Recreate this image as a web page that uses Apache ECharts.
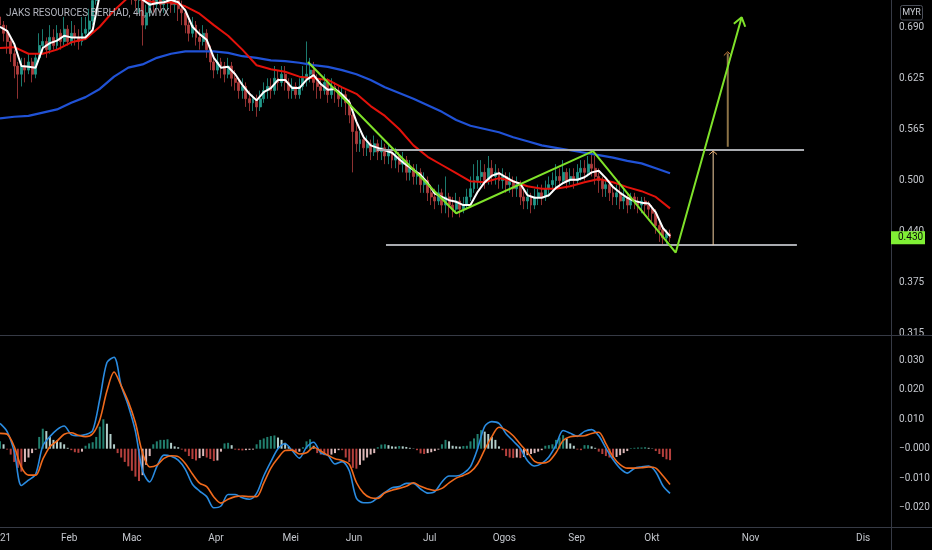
<!DOCTYPE html>
<html>
<head>
<meta charset="utf-8" />
<title>JAKS RESOURCES BERHAD, 4h, MYX</title>
<style>
  html, body { margin: 0; padding: 0; background: #000; }
  #chartmain { width: 932px; height: 550px; }
</style>
</head>
<body>
<div id="chartmain"></div>
<script src="https://cdn.jsdelivr.net/npm/echarts@6/dist/echarts.min.js"></script>
<script>
// x is the bar number (one bar per trading day)
var monthNames = ['2021', 'Feb', 'Mac', 'Apr', 'Mei', 'Jun', 'Jul', 'Ogos', 'Sep', 'Okt', 'Nov', 'Dis'];
var monthTicks = [0, 19.4, 37, 60.6, 81.6, 99.3, 120.6, 141.5, 161.8, 182.9, 210.6, 242.2];
var priceTicks = [0.3125, 0.375, 0.4375, 0.5, 0.5625, 0.625, 0.6875];
var priceTickLabels = ['0.315', '0.375', '0.440', '0.500', '0.565', '0.625', '0.690'];
var macdTicks = [0.03, 0.02, 0.01, 0, -0.01, -0.02];
var lastClose = 0.430;

// [open, close, low, high]
var candles = [
  [0.700,0.690,0.680,0.710],[0.690,0.680,0.670,0.695],[0.680,0.670,0.655,0.690],[0.670,0.655,0.645,0.675],
  [0.655,0.640,0.625,0.660],[0.640,0.630,0.600,0.645],[0.630,0.640,0.615,0.650],[0.640,0.635,0.620,0.650],
  [0.635,0.645,0.630,0.655],[0.645,0.630,0.620,0.650],[0.630,0.650,0.625,0.655],[0.650,0.665,0.645,0.680],
  [0.665,0.670,0.655,0.685],[0.670,0.660,0.650,0.675],[0.660,0.675,0.655,0.690],[0.675,0.665,0.660,0.685],
  [0.665,0.680,0.660,0.690],[0.680,0.670,0.660,0.685],[0.670,0.685,0.665,0.700],[0.685,0.670,0.665,0.690],
  [0.670,0.680,0.665,0.695],[0.680,0.675,0.665,0.690],[0.675,0.670,0.660,0.685],[0.670,0.680,0.665,0.700],
  [0.680,0.685,0.675,0.700],[0.685,0.695,0.680,0.710],[0.695,0.720,0.690,0.730],[0.720,0.745,0.715,0.755],
  [0.745,0.760,0.740,0.775],[0.760,0.750,0.740,0.770],[0.750,0.770,0.745,0.785],[0.770,0.760,0.750,0.780],
  [0.760,0.755,0.740,0.770],[0.755,0.765,0.745,0.775],[0.765,0.745,0.735,0.770],[0.745,0.750,0.735,0.760],
  [0.750,0.735,0.725,0.755],[0.735,0.730,0.715,0.745],[0.730,0.720,0.710,0.740],[0.720,0.725,0.705,0.735],
  [0.725,0.690,0.665,0.730],[0.690,0.705,0.685,0.715],[0.705,0.720,0.700,0.730],[0.720,0.715,0.705,0.730],
  [0.715,0.725,0.710,0.735],[0.725,0.715,0.705,0.730],[0.715,0.720,0.705,0.730],[0.720,0.725,0.710,0.740],
  [0.725,0.715,0.705,0.735],[0.715,0.720,0.705,0.730],[0.720,0.710,0.695,0.725],[0.710,0.705,0.690,0.720],
  [0.705,0.690,0.680,0.710],[0.690,0.680,0.670,0.695],[0.680,0.690,0.675,0.700],[0.690,0.675,0.665,0.695],
  [0.675,0.670,0.660,0.685],[0.670,0.680,0.665,0.690],[0.680,0.660,0.650,0.685],[0.660,0.645,0.635,0.665],
  [0.645,0.635,0.625,0.650],[0.635,0.645,0.630,0.655],[0.645,0.640,0.625,0.650],[0.640,0.630,0.620,0.645],
  [0.630,0.640,0.625,0.650],[0.640,0.625,0.615,0.645],[0.625,0.620,0.610,0.635],[0.620,0.610,0.600,0.625],
  [0.610,0.615,0.600,0.625],[0.615,0.600,0.590,0.620],[0.600,0.595,0.585,0.610],[0.595,0.600,0.585,0.605],
  [0.600,0.590,0.578,0.605],[0.590,0.600,0.585,0.610],[0.600,0.610,0.595,0.620],[0.610,0.615,0.600,0.625],
  [0.615,0.610,0.600,0.625],[0.610,0.625,0.605,0.640],[0.625,0.620,0.610,0.635],[0.620,0.630,0.615,0.640],
  [0.630,0.620,0.610,0.640],[0.620,0.610,0.600,0.625],[0.610,0.615,0.600,0.625],[0.615,0.605,0.600,0.620],
  [0.605,0.615,0.600,0.625],[0.615,0.625,0.610,0.640],[0.625,0.630,0.615,0.670],[0.630,0.635,0.620,0.650],
  [0.635,0.620,0.610,0.645],[0.620,0.615,0.600,0.630],[0.615,0.610,0.600,0.625],[0.610,0.620,0.605,0.630],
  [0.620,0.605,0.595,0.625],[0.605,0.615,0.600,0.625],[0.615,0.610,0.595,0.620],[0.610,0.600,0.590,0.615],
  [0.600,0.605,0.590,0.615],[0.605,0.595,0.580,0.610],[0.595,0.580,0.570,0.600],[0.580,0.560,0.510,0.585],
  [0.560,0.545,0.535,0.570],[0.545,0.550,0.535,0.560],[0.550,0.540,0.530,0.555],[0.540,0.545,0.530,0.555],
  [0.545,0.535,0.525,0.550],[0.535,0.545,0.530,0.555],[0.545,0.535,0.525,0.550],[0.535,0.540,0.525,0.550],
  [0.540,0.530,0.520,0.545],[0.530,0.535,0.520,0.545],[0.535,0.525,0.515,0.540],[0.525,0.530,0.515,0.540],
  [0.530,0.520,0.510,0.535],[0.520,0.525,0.510,0.535],[0.525,0.510,0.500,0.530],[0.510,0.515,0.500,0.525],
  [0.515,0.505,0.495,0.520],[0.505,0.510,0.495,0.520],[0.510,0.495,0.485,0.515],[0.495,0.500,0.485,0.510],
  [0.500,0.485,0.475,0.505],[0.485,0.480,0.470,0.495],[0.480,0.475,0.465,0.490],[0.475,0.485,0.470,0.495],
  [0.485,0.470,0.460,0.490],[0.470,0.480,0.460,0.505],[0.480,0.470,0.455,0.485],[0.470,0.465,0.455,0.480],
  [0.465,0.475,0.460,0.485],[0.475,0.465,0.455,0.480],[0.465,0.470,0.460,0.480],[0.470,0.480,0.465,0.490],
  [0.480,0.490,0.475,0.505],[0.490,0.500,0.485,0.520],[0.500,0.505,0.490,0.525],[0.505,0.510,0.495,0.525],
  [0.510,0.500,0.490,0.520],[0.500,0.515,0.495,0.530],[0.515,0.505,0.495,0.525],[0.505,0.510,0.495,0.520],
  [0.510,0.500,0.490,0.515],[0.500,0.505,0.490,0.515],[0.505,0.495,0.485,0.510],[0.495,0.500,0.485,0.510],
  [0.500,0.490,0.480,0.505],[0.490,0.495,0.480,0.505],[0.495,0.480,0.470,0.500],[0.480,0.475,0.465,0.490],
  [0.475,0.480,0.465,0.490],[0.480,0.470,0.460,0.485],[0.470,0.480,0.465,0.490],[0.480,0.485,0.470,0.495],
  [0.485,0.480,0.470,0.495],[0.480,0.490,0.475,0.500],[0.490,0.495,0.480,0.505],[0.495,0.500,0.485,0.510],
  [0.500,0.505,0.490,0.520],[0.505,0.500,0.490,0.515],[0.500,0.510,0.495,0.525],[0.510,0.500,0.490,0.515],
  [0.500,0.505,0.495,0.515],[0.505,0.500,0.490,0.515],[0.500,0.510,0.495,0.520],[0.510,0.515,0.500,0.525],
  [0.515,0.510,0.500,0.525],[0.510,0.520,0.505,0.530],[0.520,0.515,0.505,0.535],[0.515,0.505,0.495,0.530],
  [0.505,0.500,0.485,0.515],[0.500,0.490,0.480,0.505],[0.490,0.495,0.480,0.500],[0.495,0.485,0.475,0.500],
  [0.485,0.480,0.470,0.495],[0.480,0.485,0.470,0.495],[0.485,0.475,0.465,0.500],[0.475,0.480,0.465,0.490],
  [0.480,0.470,0.460,0.485],[0.470,0.480,0.465,0.485],[0.480,0.475,0.465,0.485],[0.475,0.470,0.460,0.480],
  [0.470,0.475,0.460,0.480],[0.475,0.470,0.460,0.480],[0.470,0.465,0.455,0.475],[0.465,0.460,0.450,0.470],
  [0.460,0.445,0.435,0.465],[0.445,0.440,0.425,0.450],[0.440,0.430,0.420,0.445],[0.430,0.435,0.420,0.440],
  [0.435,0.430,0.425,0.440]
];

// moving averages: fast every 2 bars, mid and slow every 4 bars
var fastMA = [
  0.688,0.683,0.667,0.640,0.639,0.638,0.662,0.668,0.671,0.677,
  0.675,0.675,0.675,0.684,0.727,0.745,0.757,0.757,0.751,0.739,
  0.721,0.715,0.717,0.718,0.721,0.718,0.708,0.688,0.679,0.672,
  0.650,0.638,0.639,0.630,0.617,0.606,0.598,0.608,0.613,0.623,
  0.623,0.613,0.613,0.623,0.629,0.618,0.611,0.612,0.605,0.596,
  0.572,0.553,0.543,0.540,0.537,0.534,0.526,0.519,0.513,0.507,
  0.497,0.484,0.480,0.476,0.474,0.470,0.470,0.486,0.498,0.506,
  0.509,0.504,0.499,0.496,0.482,0.479,0.479,0.482,0.491,0.497,
  0.501,0.501,0.504,0.510,0.512,0.503,0.492,0.485,0.479,0.475,
  0.473,0.472,0.461,0.442,0.432
];
var midMA = [
  0.662,0.663,0.655,0.655,0.660,0.669,0.673,0.688,0.708,0.724,
  0.721,0.717,0.718,0.713,0.704,0.690,0.677,0.660,0.641,0.636,
  0.633,0.627,0.625,0.623,0.614,0.606,0.591,0.579,0.563,0.543,
  0.529,0.519,0.509,0.499,0.498,0.503,0.499,0.493,0.490,0.490,
  0.493,0.498,0.502,0.498,0.492,0.487,0.480,0.466
];
var slowMA = [
  0.576,0.578,0.579,0.583,0.587,0.595,0.602,0.612,0.627,0.638,
  0.642,0.650,0.655,0.658,0.658,0.658,0.656,0.652,0.650,0.647,
  0.646,0.644,0.641,0.639,0.635,0.630,0.623,0.614,0.607,0.600,
  0.592,0.584,0.574,0.567,0.563,0.559,0.553,0.548,0.543,0.540,
  0.537,0.534,0.531,0.528,0.524,0.521,0.515,0.509
];

// MACD lines every 2 bars, histogram every bar
var macdLine = [
  0.0086,0.0058,-0.0010,-0.0125,-0.0107,-0.0087,0.0009,0.0041,0.0065,0.0077,
  0.0048,0.0044,0.0048,0.0062,0.0169,0.0293,0.0311,0.0215,0.0146,0.0059,
  -0.0075,-0.0113,-0.0061,-0.0022,-0.0026,-0.0039,-0.0070,-0.0121,-0.0144,-0.0163,
  -0.0201,-0.0195,-0.0156,-0.0156,-0.0167,-0.0172,-0.0152,-0.0093,-0.0044,0.0000,
  0.0017,-0.0007,-0.0032,0.0005,0.0022,-0.0014,-0.0023,-0.0052,-0.0044,-0.0075,
  -0.0168,-0.0184,-0.0183,-0.0166,-0.0149,-0.0133,-0.0129,-0.0118,-0.0118,-0.0137,
  -0.0151,-0.0146,-0.0113,-0.0093,-0.0093,-0.0084,-0.0061,0.0000,0.0076,0.0092,
  0.0086,0.0051,0.0026,0.0001,-0.0041,-0.0059,-0.0050,-0.0028,0.0012,0.0062,
  0.0053,0.0042,0.0059,0.0065,0.0044,0.0002,-0.0037,-0.0067,-0.0083,-0.0067,
  -0.0062,-0.0059,-0.0079,-0.0126,-0.0152
];
var signalLine = [
  0.0052,0.0049,0.0007,-0.0063,-0.0090,-0.0090,-0.0036,0.0007,0.0026,0.0049,
  0.0054,0.0046,0.0041,0.0051,0.0098,0.0196,0.0261,0.0214,0.0160,0.0088,
  -0.0015,-0.0062,-0.0056,-0.0033,-0.0024,-0.0027,-0.0050,-0.0086,-0.0117,-0.0129,
  -0.0164,-0.0185,-0.0172,-0.0163,-0.0161,-0.0163,-0.0163,-0.0117,-0.0066,-0.0032,
  -0.0006,-0.0005,-0.0018,-0.0014,0.0005,-0.0008,-0.0022,-0.0034,-0.0040,-0.0053,
  -0.0115,-0.0151,-0.0167,-0.0169,-0.0150,-0.0141,-0.0135,-0.0128,-0.0116,-0.0128,
  -0.0137,-0.0142,-0.0135,-0.0116,-0.0100,-0.0091,-0.0079,-0.0052,-0.0003,0.0041,
  0.0073,0.0063,0.0044,0.0015,-0.0012,-0.0043,-0.0049,-0.0043,-0.0014,0.0028,
  0.0041,0.0043,0.0044,0.0052,0.0056,0.0017,-0.0027,-0.0054,-0.0066,-0.0066,
  -0.0065,-0.0062,-0.0066,-0.0092,-0.0122
];
var macdHist = [
  0.0025,0.0015,-0.0003,-0.0020,-0.0045,-0.0065,-0.0078,-0.0045,-0.0030,-0.0015,
  -0.0003,0.0040,0.0068,0.0060,0.0040,0.0030,0.0028,0.0022,0.0015,0.0003,
  -0.0005,-0.0012,-0.0014,-0.0010,0.0010,0.0018,0.0022,0.0040,0.0075,0.0100,
  0.0085,0.0050,0.0015,-0.0015,-0.0030,-0.0045,-0.0060,-0.0075,-0.0095,-0.0110,
  -0.0090,-0.0055,-0.0025,0.0015,0.0025,0.0030,0.0030,0.0032,0.0020,0.0008,
  0.0005,-0.0003,-0.0010,-0.0025,-0.0035,-0.0040,-0.0032,-0.0025,-0.0030,-0.0035,
  -0.0042,-0.0040,-0.0010,0.0018,0.0020,0.0012,-0.0003,-0.0005,-0.0006,-0.0005,
  -0.0004,-0.0003,0.0015,0.0030,0.0035,0.0040,0.0043,0.0045,0.0038,0.0030,
  0.0020,0.0008,-0.0008,-0.0012,-0.0010,0.0005,0.0025,0.0032,0.0010,-0.0015,
  -0.0020,-0.0022,-0.0025,-0.0020,-0.0015,-0.0005,-0.0005,-0.0030,-0.0045,-0.0065,
  -0.0068,-0.0055,-0.0040,-0.0030,-0.0020,-0.0015,0.0005,0.0014,0.0015,0.0012,
  0.0008,0.0007,0.0009,0.0008,0.0006,0.0003,0.0001,-0.0005,-0.0016,-0.0018,
  -0.0015,-0.0012,-0.0008,-0.0003,0.0015,0.0030,0.0025,0.0010,0.0008,0.0007,
  0.0009,0.0010,0.0025,0.0035,0.0050,0.0063,0.0058,0.0050,0.0040,0.0030,
  0.0008,-0.0005,-0.0025,-0.0030,-0.0032,-0.0030,-0.0032,-0.0028,-0.0022,-0.0018,
  -0.0015,-0.0010,-0.0005,0.0010,0.0012,0.0015,0.0030,0.0038,0.0046,0.0035,
  0.0018,0.0010,-0.0003,-0.0005,0.0012,0.0012,0.0008,0.0003,-0.0010,-0.0018,
  -0.0025,-0.0030,-0.0032,-0.0028,-0.0022,-0.0015,-0.0008,0.0002,0.0003,0.0004,
  0.0004,0.0005,0.0003,0.0001,-0.0008,-0.0018,-0.0028,-0.0036,-0.0039
];

// hand drawn pattern, [bar, price]
var patternLine = [[86.4,0.645],[128.0,0.460],[166.4,0.536],[189.6,0.412],[208.1,0.6995]];
var patternArrow = [[205.9,0.6917],[208.1,0.6995],[209.1,0.6880]];
var rangeTop = [[105.7,0.5373],[225.6,0.5373]];
var rangeBottom = [[108.3,0.4211],[223.6,0.4211]];
var moveArrow = [[200.1,0.4211],[200.1,0.5361]];
var moveArrowHead = [[199.0,0.5318],[200.1,0.5361],[201.2,0.5318]];
var targetArrow = [[204.2,0.5413],[204.2,0.6555]];
var targetArrowHead = [[203.1,0.6528],[204.2,0.6575],[205.3,0.6528]];

var FONT = 'Roboto, "Noto Sans", sans-serif';

function pairs(arr, step) {
  return arr.map(function (v, i) { return [i * step, v]; });
}

function drawLine(data, color, width, z) {
  return {
    type: 'line', xAxisIndex: 0, yAxisIndex: 0, data: data,
    symbol: 'none', z: z || 5, silent: true,
    lineStyle: { color: color, width: width }
  };
}

var labelStyle = { color: '#c3c6cc', fontSize: 10, fontFamily: FONT };

var option = {
  backgroundColor: '#000000',
  animation: false,
  textStyle: { fontFamily: FONT },
  grid: [
    { left: 0, top: 0, width: 891, height: 335, outerBoundsMode: 'none', containLabel: false },
    { left: 0, top: 336, width: 891, height: 191, outerBoundsMode: 'none', containLabel: false }
  ],
  xAxis: [
    { type: 'value', gridIndex: 0, min: 0, max: 250, show: false },
    {
      type: 'value', gridIndex: 1, min: 0, max: 250,
      axisLine: { show: false }, axisTick: { show: false }, splitLine: { show: false },
      axisLabel: Object.assign({
        customValues: monthTicks, margin: 6,
        formatter: function (v) {
          var i = monthTicks.indexOf(v);
          return i < 0 ? '' : monthNames[i];
        }
      }, labelStyle)
    }
  ],
  yAxis: [
    {
      type: 'value', gridIndex: 0, position: 'right', min: 0.3112, max: 0.7207,
      axisLine: { show: false }, axisTick: { show: false }, splitLine: { show: false },
      axisLabel: Object.assign({
        customValues: priceTicks, margin: 8,
        formatter: function (v) {
          var i = priceTicks.indexOf(v);
          return i < 0 ? '' : priceTickLabels[i];
        }
      }, labelStyle)
    },
    {
      type: 'value', gridIndex: 1, position: 'right', min: -0.02663, max: 0.03833,
      axisLine: { show: false }, axisTick: { show: false }, splitLine: { show: false },
      axisLabel: Object.assign({
        customValues: macdTicks, margin: 8,
        formatter: function (v) { return (v <= 0 ? '\u2212' : '') + Math.abs(v).toFixed(3); }
      }, labelStyle)
    }
  ],
  series: [
    {
      type: 'candlestick', xAxisIndex: 0, yAxisIndex: 0, barWidth: 2.4, clip: true,
      data: candles.map(function (c, i) { return [i, c[0], c[1], c[2], c[3]]; }),
      itemStyle: { color: '#22998a', color0: '#b23e3e', borderColor: '#22998a', borderColor0: '#b23e3e', borderWidth: 0.8 }
    },
    drawLine(pairs(slowMA, 4), '#2052d6', 2.2, 3),
    drawLine(pairs(midMA, 4), '#e3120b', 2, 3),
    drawLine(pairs(fastMA, 2), '#ffffff', 2, 4),
    drawLine(rangeTop, '#a9abb0', 2, 5),
    drawLine(rangeBottom, '#a9abb0', 2, 5),
    drawLine(moveArrow, '#f2cfa0', 1, 5),
    drawLine(moveArrowHead, '#f2b070', 1, 5),
    drawLine(targetArrow, '#8c7346', 2, 5),
    drawLine(targetArrowHead, '#d0803c', 1, 5),
    drawLine(patternLine, '#7fe22a', 2, 6),
    drawLine(patternArrow, '#7fe22a', 2, 6),
    {
      type: 'bar', xAxisIndex: 1, yAxisIndex: 1, barWidth: 2, silent: true,
      data: pairs(macdHist, 1),
      itemStyle: {
        color: function (p) {
          var v = macdHist[p.dataIndex];
          var prev = p.dataIndex > 0 ? macdHist[p.dataIndex - 1] : v;
          if (v >= 0) return v >= prev ? '#22806f' : '#b3cfcb';
          return v <= prev ? '#b5403d' : '#dcb8b8';
        }
      }
    },
    {
      type: 'line', xAxisIndex: 1, yAxisIndex: 1, data: pairs(macdLine, 2), symbol: 'none', smooth: 0.3,
      lineStyle: { color: '#2a8be0', width: 1.6 }, z: 4
    },
    {
      type: 'line', xAxisIndex: 1, yAxisIndex: 1, data: pairs(signalLine, 2), symbol: 'none', smooth: 0.3,
      lineStyle: { color: '#f06a1c', width: 1.6 }, z: 4
    }
  ]
};

var myChart = echarts.init(document.getElementById('chartmain'));
myChart.setOption(option);

// price tag for the last close, placed through the price axis
var tagY = myChart.convertToPixel({ yAxisIndex: 0 }, lastClose);
var sepColor = '#363a45';
myChart.setOption({
  graphic: [
    { type: 'line', shape: { x1: 0, y1: 335.5, x2: 932, y2: 335.5 }, style: { stroke: sepColor, lineWidth: 1 }, z: 10 },
    { type: 'line', shape: { x1: 0, y1: 527.5, x2: 932, y2: 527.5 }, style: { stroke: sepColor, lineWidth: 1 }, z: 10 },
    { type: 'line', shape: { x1: 891.5, y1: 0, x2: 891.5, y2: 550 }, style: { stroke: sepColor, lineWidth: 1 }, z: 10 },
    {
      type: 'text', x: 6, y: 13.5, z: 10,
      style: { text: 'JAKS RESOURCES BERHAD, 4h, MYX', fill: '#b2b5be', font: '10px ' + FONT, verticalAlign: 'middle' }
    },
    {
      type: 'rect', shape: { x: 900.5, y: 5.5, width: 22, height: 14.5, r: 2 },
      style: { fill: 'none', stroke: '#4a4e58', lineWidth: 1 }, z: 10
    },
    {
      type: 'text', x: 911.5, y: 13, z: 11,
      style: { text: 'MYR', fill: '#c9ccd2', font: '9px ' + FONT, align: 'center', verticalAlign: 'middle' }
    },
    {
      type: 'rect', shape: { x: 891, y: tagY - 6.5, width: 34, height: 13 },
      style: { fill: '#80f035' }, z: 20
    },
    {
      type: 'text', x: 898, y: tagY, z: 21,
      style: { text: lastClose.toFixed(3), fill: '#0b0b0b', font: '10px ' + FONT, verticalAlign: 'middle' }
    }
  ]
});
</script>
</body>
</html>
